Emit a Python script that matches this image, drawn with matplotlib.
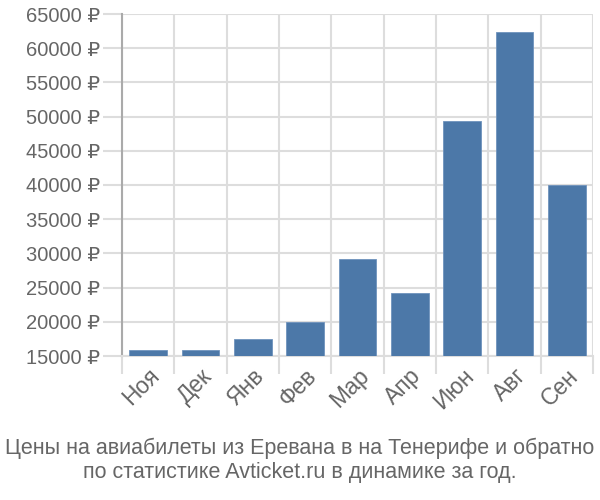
import matplotlib
matplotlib.use("Agg")
import matplotlib.pyplot as plt
from matplotlib.ticker import FixedLocator, FuncFormatter
import numpy as np

plt.rcParams["font.family"] = ["Liberation Sans", "DejaVu Sans"]

months = ["Ноя", "Дек", "Янв", "Фев", "Мар", "Апр", "Июн", "Авг", "Сен"]
prices = [15900, 15900, 17500, 19900, 29200, 24200, 49300, 62300, 40000]
y_ticks = list(range(15000, 65001, 5000))
title = ("Цены на авиабилеты из Еревана в на Тенерифе и обратно\n"
         "по статистике Avticket.ru в динамике за год.")

text_color = "#666666"
grid_color = "#dddddd"
bar_color = "#4c78a8"

fig = plt.figure(figsize=(6, 5), dpi=100)
ax = fig.add_axes([0.2033, 0.288, 0.785, 0.684])

x = np.arange(len(months))
ax.bar(x, prices, width=0.72, color=bar_color, edgecolor="#6f93bd",
       linewidth=0.6, zorder=3)

ax.set_xlim(-0.5, len(months) - 0.5)
ax.set_ylim(15000, 65000)

ax.set_yticks(y_ticks)
ax.yaxis.set_major_formatter(FuncFormatter(lambda v, p: f"{int(v)} ₽"))
ax.set_xticks(x)
ax.set_xticklabels(months, rotation=45, ha="right", rotation_mode="anchor")
ax.xaxis.set_minor_locator(FixedLocator(np.arange(-0.5, len(months), 1.0)))

ax.grid(True, axis="y", color=grid_color, linewidth=1.5, zorder=0)
ax.grid(True, axis="x", which="minor", color=grid_color, linewidth=1.5, zorder=0)

ax.tick_params(axis="y", length=14, width=1.5, color=grid_color,
               labelsize=14.5, labelcolor=text_color, pad=2)
ax.tick_params(axis="x", which="major", length=0, labelsize=16.5,
               labelcolor=text_color, pad=6)
ax.tick_params(axis="x", which="minor", length=13, width=1.5, color=grid_color)

for side in ["top", "right"]:
    ax.spines[side].set_visible(False)
ax.spines["bottom"].set_color(grid_color)
ax.spines["bottom"].set_linewidth(1.5)
ax.spines["left"].set_color("#aaaaaa")
ax.spines["left"].set_linewidth(1.5)

fig.text(0.5, 0.08, title, ha="center", va="center", fontsize=15.5,
         color=text_color, linespacing=1.2)

fig.savefig("out.png", dpi=100)
